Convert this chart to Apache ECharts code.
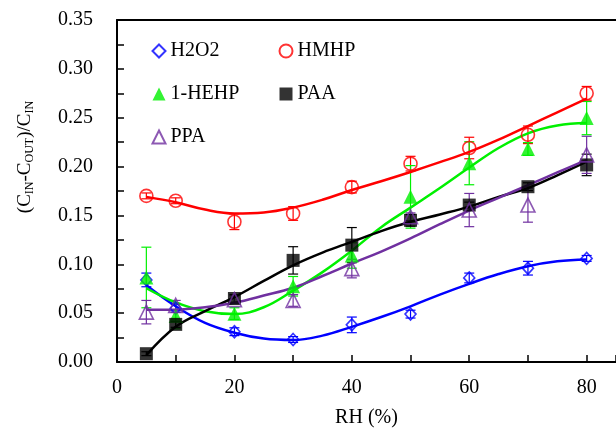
<!DOCTYPE html>
<html>
<head>
<meta charset="utf-8">
<script src="https://cdn.jsdelivr.net/npm/echarts@6/dist/echarts.min.js"></script>
<style>
html, body { margin: 0; padding: 0; background: #fff; }
#chart { width: 616px; height: 428px; }
</style>
</head>
<body>
<div id="chart"></div>
<script>
// measured points
var rh = [5, 10, 20, 30, 40, 50, 60, 70, 80];
var h2o2 = [0.084, 0.055, 0.031, 0.023, 0.038, 0.049, 0.086, 0.096, 0.106];
var h2o2Err = [0.007, 0.004, 0.004, 0.003, 0.008, 0.004, 0.005, 0.007, 0.003];
var hmhp = [0.170, 0.165, 0.1435, 0.152, 0.179, 0.203, 0.219, 0.2325, 0.275];
var hmhpErr = [0.003, 0.003, 0.008, 0.007, 0.006, 0.0075, 0.011, 0.009, 0.007];
var hehp = [0.0865, 0.047, 0.0495, 0.0775, 0.109, 0.169, 0.2034, 0.218, 0.2496];
var hehpErr = [0.031, 0.013, 0.006, 0.010, 0.013, 0.032, 0.022, 0.0065, 0.017];
var paa = [0.0085, 0.0385, 0.065, 0.104, 0.1196, 0.145, 0.1606, 0.1794, 0.2017];
var paaErr = [0.002, 0.003, 0.004, 0.014, 0.018, 0.006, 0.003, 0.004, 0.011];
var ppa = [0.051, 0.058, 0.0638, 0.063, 0.0956, 0.1486, 0.1555, 0.1606, 0.212];
var ppaErr = [0.012, 0.005, 0.004, 0.006, 0.0095, 0.004, 0.017, 0.0175, 0.019];

// fitted curves
var fitRh = [5, 10, 15, 20, 25, 30, 35, 40, 45, 50, 55, 60, 65, 70, 75, 80];
var h2o2Fit = [0.0785, 0.057, 0.040, 0.030, 0.024, 0.0225, 0.027, 0.036, 0.046, 0.057, 0.069, 0.080, 0.090, 0.098, 0.103, 0.105];
var hmhpFit = [0.169, 0.1635, 0.156, 0.152, 0.153, 0.158, 0.166, 0.176, 0.185, 0.1945, 0.2045, 0.215, 0.2275, 0.2415, 0.2555, 0.2695];
var hehpFit = [0.0755, 0.061, 0.052, 0.049, 0.056, 0.073, 0.092, 0.114, 0.138, 0.158, 0.178, 0.199, 0.219, 0.234, 0.242, 0.2445];
var paaFit = [0.007, 0.036, 0.052, 0.0665, 0.083, 0.099, 0.112, 0.123, 0.134, 0.1435, 0.151, 0.159, 0.169, 0.178, 0.191, 0.205];
var ppaFit = [0.0536, 0.0536, 0.056, 0.0607, 0.068, 0.076, 0.088, 0.1008, 0.113, 0.1265, 0.141, 0.155, 0.168, 0.181, 0.194, 0.2068];

var xTicks = [0, 20, 40, 60, 80];

var font = 'Liberation Serif, "Times New Roman", serif';

function pairs(xs, ys) {
	return xs.map(function(x, i) { return [x, ys[i]]; });
}
function triples(xs, ys, es) {
	return xs.map(function(x, i) { return [x, ys[i], es[i]]; });
}

function errSeries(name, ys, es, color) {
	return {
		name: name + ' err',
		type: 'custom',
		z: 1,
		silent: true,
		data: triples(rh, ys, es),
		encode: { x: 0, y: 1 },
		renderItem: function(params, api) {
			var x = api.value(0), y = api.value(1), e = api.value(2);
			var top = api.coord([x, y + e]);
			var bot = api.coord([x, y - e]);
			var w = 5;
			var st = { stroke: color, lineWidth: 1.2 };
			return {
				type: 'group',
				children: [
					{ type: 'line', shape: { x1: top[0], y1: top[1], x2: bot[0], y2: bot[1] }, style: st },
					{ type: 'line', shape: { x1: top[0] - w, y1: top[1], x2: top[0] + w, y2: top[1] }, style: st },
					{ type: 'line', shape: { x1: bot[0] - w, y1: bot[1], x2: bot[0] + w, y2: bot[1] }, style: st }
				]
			};
		}
	};
}

function fitSeries(name, ys, color) {
	return {
		name: name + ' fit',
		type: 'line',
		z: 2,
		smooth: 0.4,
		showSymbol: false,
		silent: true,
		data: pairs(fitRh, ys),
		lineStyle: { color: color, width: 2.5 }
	};
}

function pointSeries(name, ys, symbol, size, color, hollow) {
	return {
		name: name,
		type: 'scatter',
		z: 3,
		symbol: symbol,
		symbolSize: size,
		data: pairs(rh, ys),
		itemStyle: hollow ?
			{ color: 'none', borderColor: color, borderWidth: 1.6 } :
			{ color: color }
	};
}

var blue = '#0000ff', red = '#ff0000', green = '#00f000', black = '#000000', purple = '#7030a0';

var legendText = { fontFamily: font, fontSize: 20, color: '#000', lineHeight: 20 };

var myChart = echarts.init(document.getElementById('chart'));
var option = {
	animation: false,
	backgroundColor: '#fff',
	grid: { left: 117, right: 0, top: 20, bottom: 66, outerBoundsMode: 'none' },
	legend: [
		{
			data: ['H2O2', '1-HEHP', 'PPA'],
			orient: 'vertical',
			left: 150,
			top: 41,
			padding: 0,
			itemWidth: 13,
			itemHeight: 13,
			itemGap: 23,
			selectedMode: false,
			textStyle: legendText
		},
		{
			data: ['HMHP', 'PAA'],
			orient: 'vertical',
			left: 277,
			top: 41,
			padding: 0,
			itemWidth: 13,
			itemHeight: 13,
			itemGap: 23,
			selectedMode: false,
			textStyle: legendText
		}
	],
	xAxis: [
		{
			type: 'value',
			min: 0,
			max: 85,
			interval: 10,
			name: 'RH (%)',
			nameLocation: 'middle',
			nameGap: 46,
			nameTextStyle: { fontFamily: font, fontSize: 20, color: '#000' },
			axisLine: { lineStyle: { color: '#000', width: 2 } },
			axisTick: { inside: true, length: 7, lineStyle: { color: '#000', width: 1.5 } },
			axisLabel: {
				margin: 16,
				fontFamily: font,
				fontSize: 20,
				color: '#000',
				formatter: function(v) { return xTicks.indexOf(v) >= 0 ? String(v) : ''; }
			},
			splitLine: { show: false }
		},
		{
			type: 'value',
			position: 'top',
			min: 0,
			max: 85,
			axisLine: { show: true, lineStyle: { color: '#000', width: 2 } },
			axisTick: { show: false },
			axisLabel: { show: false },
			splitLine: { show: false }
		}
	],
	yAxis: {
		type: 'value',
		min: 0,
		max: 0.35,
		interval: 0.025,
		axisLine: { show: true, lineStyle: { color: '#000', width: 2 } },
		axisTick: { show: true, inside: true, length: 7, lineStyle: { color: '#000', width: 1.5 } },
		axisLabel: {
			margin: 24,
			fontFamily: font,
			fontSize: 20,
			color: '#000',
			formatter: function(v) {
				return Math.round(v * 1000) % 50 === 0 ? v.toFixed(2) : '';
			}
		},
		splitLine: { show: false }
	},
	graphic: [
		{
			type: 'text',
			x: 25,
			y: 157,
			rotation: Math.PI / 2,
			style: {
				text: '{n|(C}{s|IN}{n|-C}{s|OUT}{n|)/C}{s|IN}',
				align: 'center',
				verticalAlign: 'middle',
				fill: '#000',
				rich: {
					n: { fontFamily: font, fontSize: 19, fill: '#000', lineHeight: 22 },
					s: { fontFamily: font, fontSize: 12, fill: '#000', lineHeight: 22, verticalAlign: 'bottom', padding: [8, 0, 0, 0] }
				}
			}
		}
	],
	series: [
		errSeries('H2O2', h2o2, h2o2Err, blue),
		errSeries('HMHP', hmhp, hmhpErr, red),
		errSeries('1-HEHP', hehp, hehpErr, green),
		errSeries('PAA', paa, paaErr, black),
		errSeries('PPA', ppa, ppaErr, purple),
		fitSeries('H2O2', h2o2Fit, blue),
		fitSeries('HMHP', hmhpFit, red),
		fitSeries('1-HEHP', hehpFit, green),
		fitSeries('PAA', paaFit, black),
		fitSeries('PPA', ppaFit, purple),
		pointSeries('H2O2', h2o2, 'diamond', [11, 12], blue, true),
		pointSeries('HMHP', hmhp, 'circle', 13, red, true),
		pointSeries('1-HEHP', hehp, 'triangle', 14, green, false),
		pointSeries('PAA', paa, 'rect', 13, black, false),
		pointSeries('PPA', ppa, 'triangle', 14, purple, true)
	]
};
myChart.setOption(option);
</script>
</body>
</html>
